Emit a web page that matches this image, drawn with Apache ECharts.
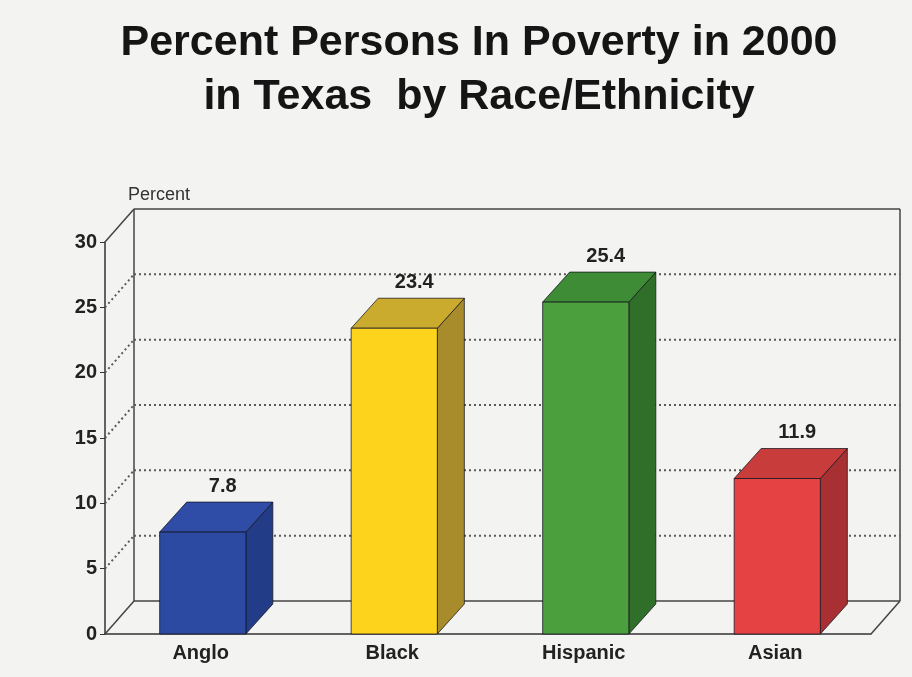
<!DOCTYPE html>
<html><head><meta charset="utf-8">
<script src="https://cdn.jsdelivr.net/npm/echarts@6/dist/echarts.min.js"></script>
<style>html,body{margin:0;padding:0;background:#f3f3f1}#c{width:912px;height:677px}</style>
</head><body><div id="c"></div>
<script>
const categories = ['Anglo', 'Black', 'Hispanic', 'Asian'];
const values = [7.8, 23.4, 25.4, 11.9];
const tickValues = [0, 5, 10, 15, 20, 25, 30];
const frontColors = ['#2c4aa2', '#fdd31c', '#4b9f3d', '#e54343'];
const topColors = ['#2f4da6', '#cbab2e', '#3f8c36', '#c83c3c'];
const sideColors = ['#223c88', '#a88b2b', '#2f6f2a', '#a93032'];
const titleText = 'Percent Persons In Poverty in 2000\nin Texas  by Race/Ethnicity';

const WALL_DX = 29, WALL_DY = -33;
const BAR_DX = 27, BAR_DY = -30;
const FONT = 'Liberation Sans, Arial, sans-serif';

const chart = echarts.init(document.getElementById('c'), null, {renderer: 'canvas'});
chart.setOption({
  backgroundColor: '#f3f3f1',
  animation: false,
  graphic: [{
    type: 'text', x: 479, y: 16,
    style: {text: titleText, fontFamily: FONT, fontWeight: 'bold', fontSize: 43, lineHeight: 54,
      fill: '#151515', align: 'center', verticalAlign: 'top'}
  }],
  grid: {left: 105, right: 41, top: 242, bottom: 43},
  xAxis: {
    type: 'category', data: categories,
    axisLine: {show: true, lineStyle: {color: '#333', width: 1.5}},
    axisTick: {show: false},
    axisLabel: {fontFamily: FONT, fontWeight: 'bold', fontSize: 20, color: '#222', margin: 9}
  },
  yAxis: {
    type: 'value', min: 0, max: 30, interval: 5,
    name: 'Percent', nameLocation: 'end', nameGap: 38,
    nameTextStyle: {fontFamily: FONT, fontSize: 18, color: '#333', align: 'left', padding: [0, 0, 0, 23]},
    axisLine: {show: true, lineStyle: {color: '#333', width: 1.5}},
    axisTick: {show: true, length: 5, lineStyle: {color: '#333'}},
    axisLabel: {fontFamily: FONT, fontWeight: 'bold', fontSize: 20, color: '#222', margin: 8},
    splitLine: {show: false}
  },
  series: [
    {
      type: 'custom', name: 'frame', z: 1, silent: true,
      data: tickValues.map(v => [0, v]),
      encode: {x: 0, y: 1},
      renderItem: function (params, api) {
        const v = api.value(1);
        const x0 = params.coordSys.x, x1 = params.coordSys.x + params.coordSys.width;
        const y = api.coord([0, v])[1];
        const bx0 = x0 + WALL_DX, bx1 = x1 + WALL_DX, by = y + WALL_DY;
        const solid = (v === 0 || v === tickValues[tickValues.length - 1]);
        const dotted = {stroke: '#5a5a5a', lineWidth: 2, lineDash: [2, 3]};
        const solidS = {stroke: '#444', lineWidth: 1.5};
        const children = [];
        children.push({type: 'line', shape: {x1: x0, y1: y, x2: bx0, y2: by}, style: solid ? solidS : dotted});
        children.push({type: 'line', shape: {x1: bx0, y1: by, x2: bx1, y2: by}, style: solid ? solidS : dotted});
        if (v === 0) {
          const yTop = api.coord([0, tickValues[tickValues.length - 1]])[1] + WALL_DY;
          children.push({type: 'line', shape: {x1: x1, y1: y, x2: bx1, y2: by}, style: solidS});
          children.push({type: 'line', shape: {x1: bx0, y1: by, x2: bx0, y2: yTop}, style: solidS});
          children.push({type: 'line', shape: {x1: bx1, y1: by, x2: bx1, y2: yTop}, style: solidS});
        }
        return {type: 'group', children: children};
      }
    },
    {
      type: 'custom', name: 'bars', z: 3,
      data: values.map((v, i) => [i, v]),
      encode: {x: 0, y: 1},
      renderItem: function (params, api) {
        const i = api.value(0), v = api.value(1);
        const top = api.coord([i, v]);
        const base = api.coord([i, 0]);
        const w = api.size([1, 0])[0] * 0.45;
        const xl = top[0] - w / 2 + 2, xr = top[0] + w / 2 + 2;
        const yt = top[1], yb = base[1];
        const stroke = 'rgba(20,20,30,0.75)';
        return {type: 'group', children: [
          {type: 'polygon', shape: {points: [[xr, yb], [xr + BAR_DX, yb + BAR_DY], [xr + BAR_DX, yt + BAR_DY], [xr, yt]]},
            style: {fill: sideColors[i], stroke: stroke, lineWidth: 1}},
          {type: 'polygon', shape: {points: [[xl, yt], [xl + BAR_DX, yt + BAR_DY], [xr + BAR_DX, yt + BAR_DY], [xr, yt]]},
            style: {fill: topColors[i], stroke: stroke, lineWidth: 1}},
          {type: 'rect', shape: {x: xl, y: yt, width: w, height: yb - yt},
            style: {fill: frontColors[i], stroke: stroke, lineWidth: 1}},
          {type: 'text', x: top[0] + 22, y: yt + BAR_DY - 6,
            style: {text: String(v), fontFamily: FONT, fontWeight: 'bold', fontSize: 20, fill: '#222',
              align: 'center', verticalAlign: 'bottom'}}
        ]};
      }
    }
  ]
});
</script></body></html>
